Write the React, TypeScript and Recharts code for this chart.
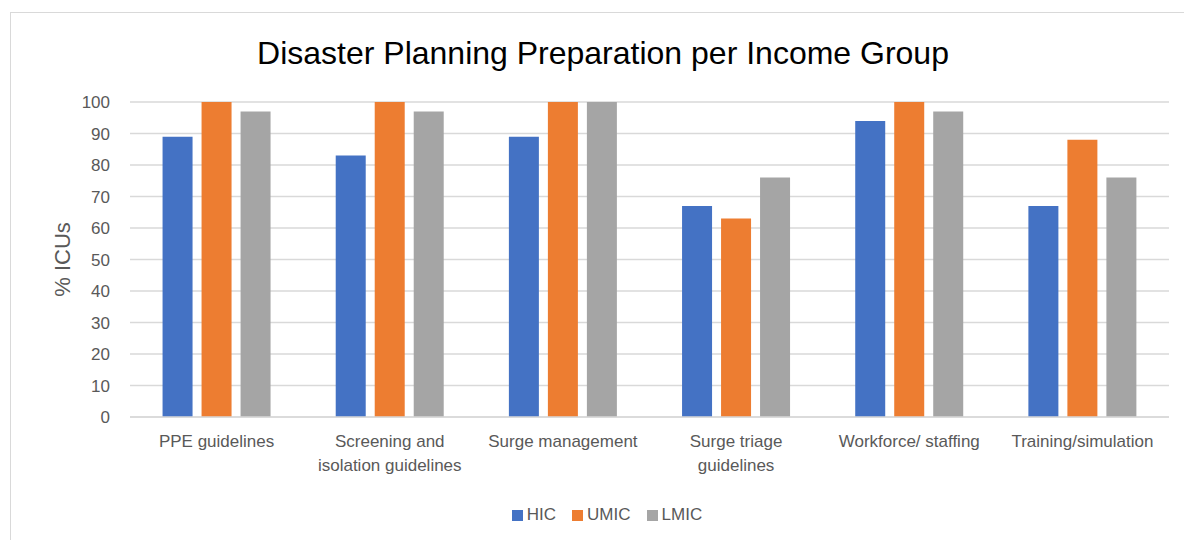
import { BarChart, Bar, XAxis, YAxis, CartesianGrid, Legend, Text } from 'recharts';

const categories = [
    'PPE guidelines',
    'Screening and isolation guidelines',
    'Surge management',
    'Surge triage guidelines',
    'Workforce/ staffing',
    'Training/simulation',
];
const hic = [89, 83, 89, 67, 94, 67];
const umic = [100, 100, 100, 63, 100, 88];
const lmic = [97, 97, 100, 76, 97, 76];
const yTicks = [0, 10, 20, 30, 40, 50, 60, 70, 80, 90, 100];

const series = [
    { key: 'HIC', color: '#4472C4' },
    { key: 'UMIC', color: '#ED7D31' },
    { key: 'LMIC', color: '#A5A5A5' },
];

const data = categories.map((name, i) => ({ name, HIC: hic[i], UMIC: umic[i], LMIC: lmic[i] }));

const FONT = '"Liberation Sans", Arial, sans-serif';
const GREY = '#595959';

function CategoryTick(props: any) {
    const { x, y, payload } = props;
    return (
        <Text
            x={x}
            y={y}
            width={160}
            textAnchor="middle"
            verticalAnchor="start"
            lineHeight={24}
            style={{ fontFamily: FONT, fontSize: 17, fill: GREY }}
        >
            {payload.value}
        </Text>
    );
}

function LegendContent() {
    return (
        <div style={{ display: 'flex', justifyContent: 'center', fontFamily: FONT, fontSize: 17, color: GREY }}>
            {series.map((s) => (
                <div key={s.key} style={{ display: 'flex', alignItems: 'center', marginRight: 16 }}>
                    <span style={{ width: 11, height: 11, background: s.color, display: 'inline-block', marginRight: 4 }} />
                    <span>{s.key}</span>
                </div>
            ))}
        </div>
    );
}

export default function App() {
    return (
        <div style={{ position: 'absolute', left: 0, top: 0, width: 1184, height: 540, overflow: 'hidden', background: '#fff' }}>
            <div style={{ position: 'absolute', left: 10, top: 12, width: 1300, height: 700, border: '1px solid #d9d9d9' }} />
            <div
                style={{
                    position: 'absolute', left: 0, top: 34, width: 1206, textAlign: 'center',
                    fontFamily: FONT, fontSize: 32, color: '#000', lineHeight: '38px',
                }}
            >
                Disaster Planning Preparation per Income Group
            </div>
            <div style={{ position: 'absolute', left: 0, top: 0 }}>
                <BarChart
                    width={1184}
                    height={540}
                    data={data}
                    margin={{ top: 102, right: 15, bottom: 15, left: 70 }}
                    barCategoryGap="18.8%"
                    barGap={9}
                >
                    <CartesianGrid vertical={false} stroke="#d9d9d9" strokeWidth={1.5} />
                    <XAxis
                        dataKey="name"
                        height={88}
                        tick={<CategoryTick />}
                        tickLine={false}
                        axisLine={{ stroke: '#d9d9d9', strokeWidth: 1.5 }}
                        tickMargin={12}
                        interval={0}
                    />
                    <YAxis
                        width={60}
                        domain={[0, 100]}
                        ticks={yTicks}
                        axisLine={false}
                        tickLine={false}
                        tickMargin={14}
                        tick={{ fontFamily: FONT, fontSize: 17, fill: GREY }}
                        label={{
                            value: '% ICUs', angle: -90, position: 'insideLeft', offset: -8,
                            style: { fontFamily: FONT, fontSize: 22, fill: GREY, textAnchor: 'middle' },
                        }}
                    />
                    <Legend verticalAlign="bottom" content={<LegendContent />} wrapperStyle={{ left: 0, width: 1230 }} />
                    {series.map((s) => (
                        <Bar key={s.key} dataKey={s.key} fill={s.color} isAnimationActive={false} />
                    ))}
                </BarChart>
            </div>
        </div>
    );
}
